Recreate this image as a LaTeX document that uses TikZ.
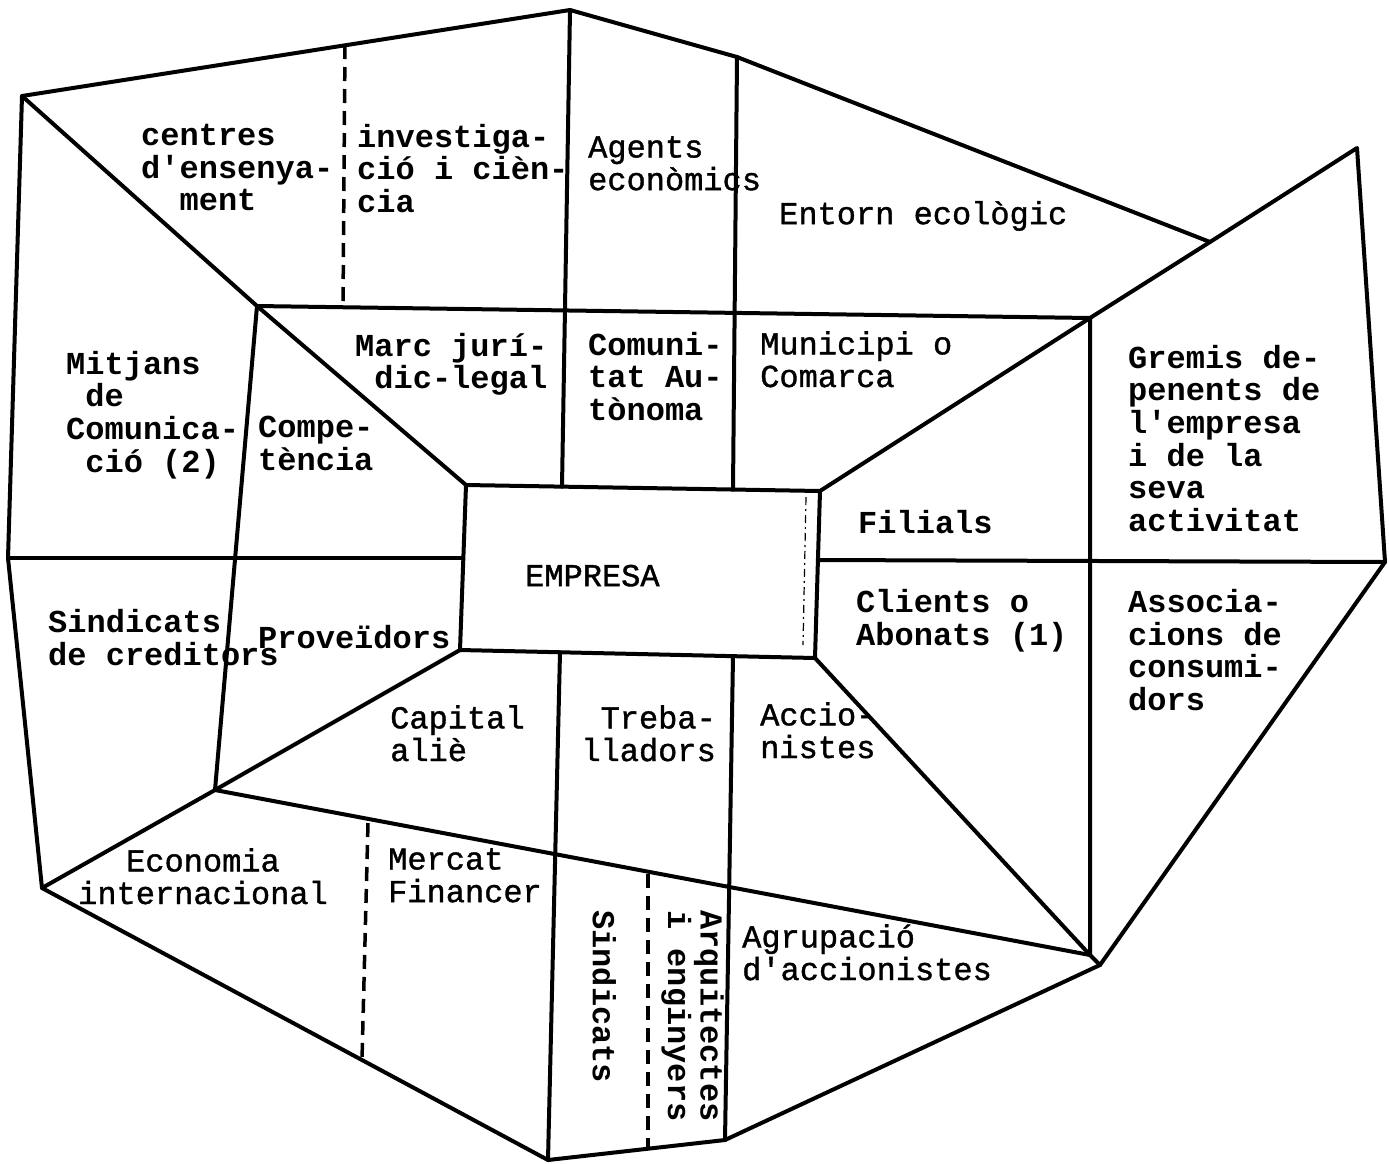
\documentclass[tikz,border=0pt]{standalone}
\usepackage{fontspec}
\setmonofont{Liberation Mono}
\newfontfamily\midtt[FakeBold=1.2]{Liberation Mono}
\newcommand{\topstrut}{\rule{0pt}{26pt}}
\newcommand{\ind}{\phantom{m}}
\tikzset{
  edge/.style={line width=4pt, line cap=round, line join=round},
  dashedge/.style={line width=3.5pt, dash pattern=on 14pt off 8pt},
  lbl/.style={anchor=north west, inner sep=0pt, align=left,
    font=\midtt\fontsize{32}{32.6}\selectfont, execute at begin node=\topstrut},
  blbl/.style={lbl, font=\ttfamily\bfseries\fontsize{32}{32.6}\selectfont}
}
\begin{document}
\begin{tikzpicture}[x=1pt,y=-1pt]
\useasboundingbox (0,0) rectangle (1389,1163);
% outer ring
\coordinate (O1) at (22,96);
\coordinate (T) at (570,10);
\coordinate (T2) at (737,57);
\coordinate (OR1) at (1210,242);
\coordinate (OR2) at (1357,148);
\coordinate (OR3) at (1385,562);
\coordinate (OBR) at (1100,965);
\coordinate (OB1) at (725,1140);
\coordinate (OB2) at (548,1160);
\coordinate (OBL) at (42,888);
\coordinate (OL) at (8,558);
% inner ring
\coordinate (I1) at (257,306);
\coordinate (I2) at (1090,318);
\coordinate (I3) at (1090,955);
\coordinate (I4) at (215,790);
% company box
\coordinate (E1) at (466,485);
\coordinate (E2) at (820,491);
\coordinate (E3) at (815,658);
\coordinate (E4) at (460,650);
% other points
\coordinate (V1) at (562,486.6);
\coordinate (V2) at (733,489.5);
\coordinate (ML) at (463,558);
\coordinate (MR) at (818,560);
\coordinate (B1) at (560,652.3);
\coordinate (B2) at (733,656.2);
\coordinate (D1a) at (345,45);
\coordinate (D1b) at (343,306);
\coordinate (D2a) at (368,823);
\coordinate (D2b) at (362,1060);
\coordinate (D3a) at (648,874);
\coordinate (D3b) at (648,1149);
\coordinate (Ea) at (806,497);
\coordinate (Eb) at (803,645);

\draw[edge] (O1) -- (T) -- (T2) -- (OR1) -- (OR2) -- (OR3) -- (OBR) -- (OB1) -- (OB2) -- (OBL) -- (OL) -- cycle;
\draw[edge] (I1) -- (I2) -- (I3) -- (I4) -- cycle;
\draw[edge] (E1) -- (E2) -- (E3) -- (E4) -- cycle;
\draw[edge] (O1) -- (I1) -- (E1);
\draw[edge] (OR1) -- (I2) -- (E2);
\draw[edge] (OBL) -- (I4) -- (E4);
\draw[edge] (OBR) -- (I3) -- (E3);
\draw[edge] (T) -- (V1);
\draw[edge] (T2) -- (V2);
\draw[edge] (OL) -- (ML);
\draw[edge] (MR) -- (OR3);
\draw[edge] (B1) -- (OB2);
\draw[edge] (B2) -- (OB1);
\draw[dashedge] (D1a) -- (D1b);
\draw[dashedge] (D2a) -- (D2b);
\draw[dashedge] (D3a) -- (D3b);
\draw[line width=1.2pt, dash pattern=on 8pt off 4pt on 2pt off 4pt] (Ea) -- (Eb);

% labels
\node[blbl] (centres) at (141,124) {centres\\d'ensenya-\\\ind\ind ment};
\node[blbl] (invest) at (357,124) {investiga-\\ció i cièn-\\cia};
\node[lbl] (agents) at (588,136) {Agents\\econòmics};
\node[lbl] (entorn) at (779,198) {Entorn ecològic};
\node[blbl] (mitjans) at (66,351) {Mitjans\\\ind de\\Comunica-\\\ind ció (2)};
\node[blbl] (compe) at (258,416) {Compe-\\tència};
\node[blbl] (marc) at (355,333) {Marc jurí-\\\ind dic-legal};
\node[blbl] (comuni) at (588,332) {Comuni-\\tat Au-\\tònoma};
\node[lbl] (munic) at (760,331) {Municipi o\\Comarca};
\node[blbl] (gremis) at (1128,345) {Gremis de-\\penents de\\l'empresa\\i de la\\seva\\activitat};
\node[blbl] (filials) at (858,507) {Filials};
\node[lbl] (empresa) at (525,560) {EMPRESA};
\node[blbl] (clients) at (856,589) {Clients o\\Abonats (1)};
\node[blbl] (assoc) at (1128,589) {Associa-\\cions de\\consumi-\\dors};
\node[blbl] (sindcred) at (48,609) {Sindicats\\de creditors};
\node[blbl] (prove) at (258,622) {Proveïdors};
\node[lbl] (capital) at (390,705) {Capital\\aliè};
\node[lbl, anchor=north east, align=right] (treb) at (716,705) {Treba-\\lladors};
\node[lbl] (accio) at (760,702) {Accio-\\nistes};
\node[lbl, anchor=north, align=center] (econ) at (203,848) {Economia\\internacional};
\node[lbl] (mercat) at (388,848) {Mercat\\Financer};
\node[blbl, rotate=-90] (sindicats) at (619,910) {Sindicats};
\node[blbl, rotate=-90] (arquit) at (724,910) {Arquitectes\\i enginyers};
\node[lbl] (agrup) at (742,924) {Agrupació\\d'accionistes};
\end{tikzpicture}
\end{document}
